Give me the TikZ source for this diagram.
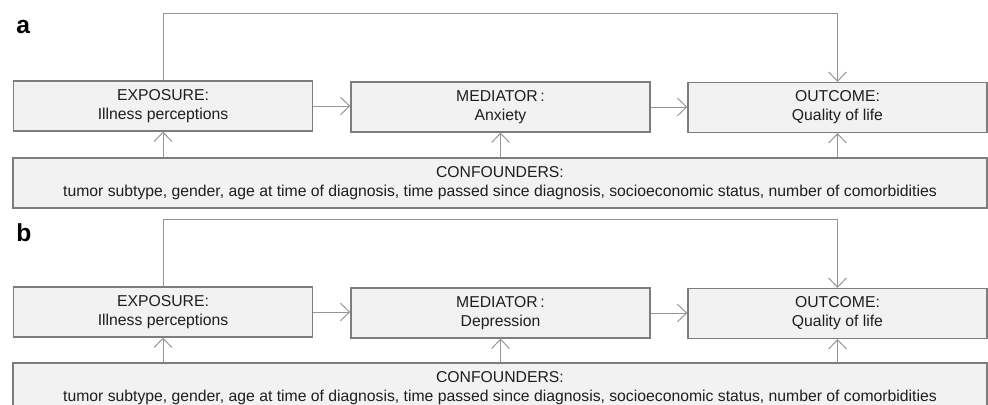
\documentclass[tikz,border=0pt]{standalone}
\usepackage{fontspec}
\setmainfont{Liberation Sans}
\usetikzlibrary{arrows.meta,positioning}
\definecolor{boxline}{RGB}{125,125,125}
\definecolor{boxfill}{RGB}{242,242,242}
\definecolor{wire}{RGB}{150,150,150}
\definecolor{txt}{RGB}{30,30,30}
\begin{document}
\begin{tikzpicture}[x=0.025cm,y=-0.025cm,
    box/.style={rectangle,draw=boxline,fill=boxfill,line width=1.05pt,
      minimum width=7.47cm,minimum height=1.24cm,align=center,
      text=txt,font=\fontsize{11.2}{13.6}\selectfont,inner sep=0pt},
    widebox/.style={box,minimum width=24.35cm},
    connector/.style={-{Straight Barb[length=2.3mm,width=4.4mm]},draw=wire,line width=0.7pt},
    panel/.style={font=\bfseries\fontsize{17.5}{17.5}\selectfont,anchor=west,inner sep=0pt}]
    \useasboundingbox (0,0) rectangle (988,405);

    % Panel a
    \node (label_a) [panel] at (16,27) {a};
    \node (exposure_a) [box] at (163,106) {EXPOSURE:\\Illness perceptions};
    \node (mediator_a) [box] at (500.5,107) {MEDIATOR\,:\\Anxiety};
    \node (outcome_a) [box] at (837.5,107.5) {OUTCOME:\\Quality of life};
    \node (confounders_a) [widebox] at (500,183) {CONFOUNDERS:\\tumor subtype, gender, age at time of diagnosis, time passed since diagnosis, socioeconomic status, number of comorbidities};
    \coordinate (top_a) at (163,13);

    \draw[connector] (exposure_a.east) -- (mediator_a.west |- exposure_a.east);
    \draw[connector] (mediator_a.east) -- (outcome_a.west |- mediator_a.east);
    \draw[connector] (exposure_a.north) -- (top_a) -| (outcome_a.north);
    \draw[connector] (confounders_a.north -| exposure_a.south) -- (exposure_a.south);
    \draw[connector] (confounders_a.north -| mediator_a.south) -- (mediator_a.south);
    \draw[connector] (confounders_a.north -| outcome_a.south) -- (outcome_a.south);

    % Panel b, same layout 206px lower
    \node (label_b) [panel] at (16,233) {b};
    \node (exposure_b) [box] at (163,312) {EXPOSURE:\\Illness perceptions};
    \node (mediator_b) [box] at (500.5,313) {MEDIATOR\,:\\Depression};
    \node (outcome_b) [box] at (837.5,313.5) {OUTCOME:\\Quality of life};
    \node (confounders_b) [widebox] at (500,388) {CONFOUNDERS:\\tumor subtype, gender, age at time of diagnosis, time passed since diagnosis, socioeconomic status, number of comorbidities};
    \coordinate (top_b) at (163,219);

    \draw[connector] (exposure_b.east) -- (mediator_b.west |- exposure_b.east);
    \draw[connector] (mediator_b.east) -- (outcome_b.west |- mediator_b.east);
    \draw[connector] (exposure_b.north) -- (top_b) -| (outcome_b.north);
    \draw[connector] (confounders_b.north -| exposure_b.south) -- (exposure_b.south);
    \draw[connector] (confounders_b.north -| mediator_b.south) -- (mediator_b.south);
    \draw[connector] (confounders_b.north -| outcome_b.south) -- (outcome_b.south);
\end{tikzpicture}
\end{document}
